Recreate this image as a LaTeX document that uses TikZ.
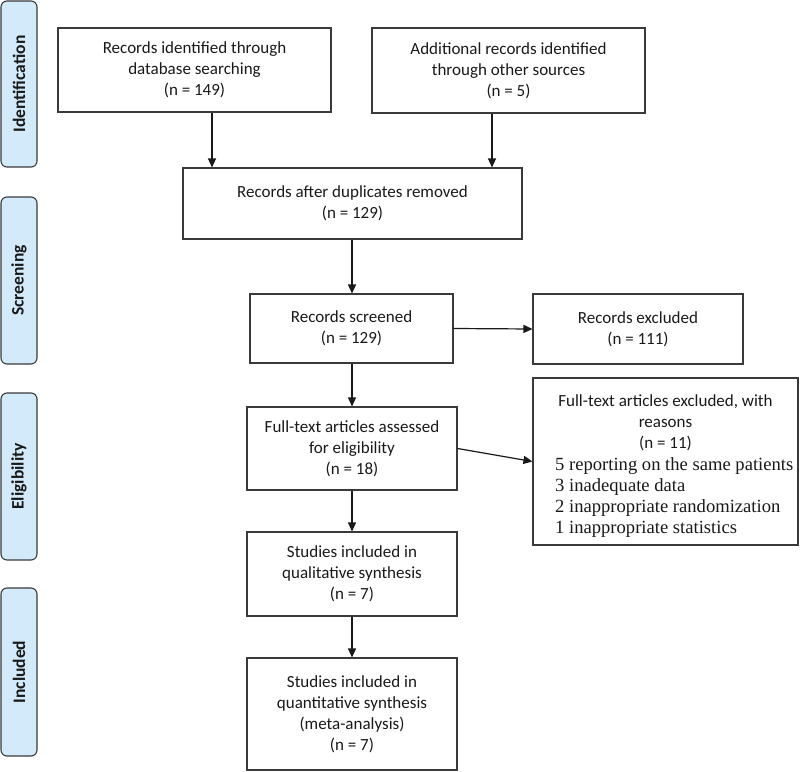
\documentclass[tikz,border=0pt]{standalone}
\usepackage{fontspec}
\setmainfont{Carlito}
\newfontfamily\tnr{Liberation Serif}
\usetikzlibrary{arrows.meta}
\definecolor{phase}{HTML}{D2EAF9}
\definecolor{edge}{HTML}{3A3A3A}
\begin{document}
\begin{tikzpicture}[x=1pt,y=-1pt,
  flowbox/.style={draw=edge,line width=1.1pt,rectangle,inner sep=0pt,align=center,
    font=\fontsize{17}{21}\selectfont,text=black!90},
  phasebox/.style={draw=edge,fill=phase,line width=1.1pt,rounded corners=6pt,inner sep=0pt,
    minimum height=36pt,rotate=90,font=\fontsize{17.5}{21}\selectfont\bfseries,text=black!90},
  arr/.style={draw=black!90,line width=1.2pt,-{Triangle[length=9pt,width=8pt]}}]
\useasboundingbox (0,0) rectangle (800,771);
% phase labels
\node[phasebox,minimum width=166pt] (p1) at (19,84) {Identification};
\node[phasebox,minimum width=167pt] (p2) at (19,280.5) {Screening};
\node[phasebox,minimum width=167pt] (p3) at (19,476.5) {Eligibility};
\node[phasebox,minimum width=168pt] (p4) at (19,672) {Included};
% boxes
\node[flowbox,minimum width=273pt,minimum height=84pt] (b1) at (194.5,70)
  {Records identified through\\database searching\\(n = 149)};
\node[flowbox,minimum width=273pt,minimum height=85pt] (b2) at (508.5,70.5)
  {Additional records identified\\through other sources\\(n = 5)};
\node[flowbox,minimum width=339pt,minimum height=71pt] (b3) at (352.5,203.5)
  {Records after duplicates removed\\(n = 129)};
\node[flowbox,minimum width=203pt,minimum height=69pt] (b4) at (351.5,328.5)
  {Records screened\\(n = 129)};
\node[flowbox,minimum width=210pt,minimum height=70pt] (b5) at (638,329)
  {Records excluded\\(n = 111)};
\node[flowbox,minimum width=210pt,minimum height=83pt] (b6) at (352,448.5)
  {Full-text articles assessed\\for eligibility\\(n = 18)};
\node[flowbox,minimum width=265pt,minimum height=167pt] (b7) at (665.5,461.5) {};
\node[flowbox,minimum width=210pt,minimum height=84pt] (b8) at (352,574)
  {Studies included in\\qualitative synthesis\\(n = 7)};
\node[flowbox,minimum width=210pt,minimum height=112pt] (b9) at (352,714)
  {Studies included in\\quantitative synthesis\\(meta-analysis)\\(n = 7)};
% text of the exclusion box
\node[font=\fontsize{17}{21}\selectfont,align=center,inner sep=0pt,text=black!90] (h7) at (665.5,423)
  {Full-text articles excluded, with\\reasons\\(n = 11)};
\begin{scope}
\clip ([xshift=1pt,yshift=-1pt]b7.north west) rectangle ([xshift=-1pt,yshift=-10pt]b7.south east);
\node[font=\tnr\fontsize{18.6}{21}\selectfont,align=left,anchor=west,inner sep=0pt,text=black!90] (r7) at (555,498)
  {5 reporting on the same patients\\3 inadequate data\\2 inappropriate randomization\\1 inappropriate statistics};
\end{scope}
% connectors
\coordinate (c1) at (212,0);
\coordinate (c2) at (492,0);
\draw[arr] (b1.south -| c1) -- (b3.north -| c1);
\draw[arr] (b2.south -| c2) -- (b3.north -| c2);
\draw[arr] (b3.south -| b6.north) -- (b4.north -| b6.north);
\draw[arr] (b4.east) -- (b5.west);
\draw[arr] (b4.south -| b6.north) -- (b6.north);
\draw[arr] (b6.east) -- (b7.west);
\draw[arr] (b6.south) -- (b8.north);
\draw[arr] (b8.south) -- (b9.north);
\end{tikzpicture}
\end{document}
